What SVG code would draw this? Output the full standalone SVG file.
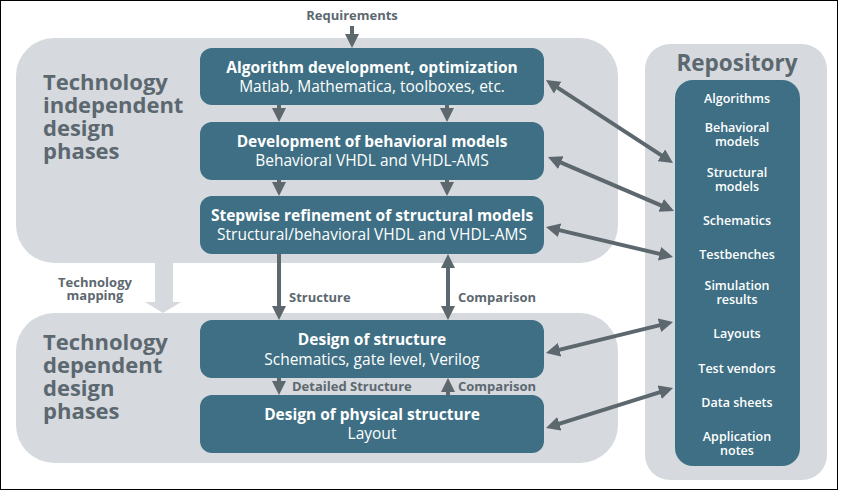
<svg xmlns="http://www.w3.org/2000/svg" width="843" height="492" viewBox="0 0 843 492">
<defs>
<style>
.panel{fill:#d6d9de}
.box{fill:#3e6f84}
.conn{stroke:#5d676e;stroke-width:4;fill:none}
.big{font-family:"Open Sans","DejaVu Sans",sans-serif;font-weight:bold;font-size:22px;fill:#5c6870}
.lbl{font-family:"Open Sans","DejaVu Sans",sans-serif;font-weight:bold;font-size:13px;fill:#5c6870}
.t{font-family:"Open Sans","DejaVu Sans",sans-serif;font-weight:bold;font-size:15.5px;fill:#fff;text-anchor:middle}
.s{font-family:"Open Sans","DejaVu Sans",sans-serif;font-size:15.5px;fill:#fff;text-anchor:middle}
.r{font-family:"Open Sans","DejaVu Sans",sans-serif;font-size:12.5px;font-weight:600;fill:#fff;text-anchor:middle}
</style>
<marker id="ah" viewBox="0 0 14 14" markerWidth="14" markerHeight="14" refX="8" refY="7" orient="auto-start-reverse" markerUnits="userSpaceOnUse">
<path d="M0,0 L14,7 L0,14 z" fill="#5d676e"/>
</marker>
</defs>
<rect x="0.5" y="0.5" width="837" height="489" fill="#fff" stroke="#000" stroke-width="1"/>

<g id="independent-panel">
<rect class="panel" x="16" y="38" width="602" height="225" rx="38"/>
<text class="big" x="43" y="90">Technology</text>
<text class="big" x="43" y="113">independent</text>
<text class="big" x="43" y="136">design</text>
<text class="big" x="43" y="159">phases</text>
</g>

<g id="dependent-panel">
<rect class="panel" x="16" y="313" width="602" height="150" rx="38"/>
<text class="big" x="43" y="350">Technology</text>
<text class="big" x="43" y="373">dependent</text>
<text class="big" x="43" y="396">design</text>
<text class="big" x="43" y="419">phases</text>
</g>

<g id="technology-mapping">
<path class="panel" d="M155,263 H173 V302 H181 L163,313 L145,302 H155 Z"/>
<text class="lbl" x="95" y="287" text-anchor="middle">Technology</text>
<text class="lbl" x="95" y="300" text-anchor="middle">mapping</text>
</g>

<g id="repository">
<rect class="panel" x="645" y="44" width="182" height="436" rx="25"/>
<text x="737" y="71" text-anchor="middle" style="font-family:'Open Sans','DejaVu Sans',sans-serif;font-weight:bold;font-size:22.5px;fill:#5c6870">Repository</text>
<rect class="box" x="675" y="80" width="125" height="386" rx="18"/>
<text class="r" x="737" y="103">Algorithms</text>
<text class="r" x="737" y="132">Behavioral</text>
<text class="r" x="737" y="146">models</text>
<text class="r" x="737" y="177">Structural</text>
<text class="r" x="737" y="191">models</text>
<text class="r" x="737" y="225">Schematics</text>
<text class="r" x="737" y="259">Testbenches</text>
<text class="r" x="737" y="290">Simulation</text>
<text class="r" x="737" y="304">results</text>
<text class="r" x="737" y="338">Layouts</text>
<text class="r" x="737" y="373">Test vendors</text>
<text class="r" x="737" y="407">Data sheets</text>
<text class="r" x="737" y="441">Application</text>
<text class="r" x="737" y="455">notes</text>
</g>

<g id="algorithm">
<rect class="box" x="200" y="48" width="344" height="57" rx="12"/>
<text class="t" x="372" y="73">Algorithm development, optimization</text>
<text class="s" x="372" y="92">Matlab, Mathematica, toolboxes, etc.</text>
</g>
<g id="behavioral">
<rect class="box" x="200" y="122" width="344" height="58" rx="12"/>
<text class="t" x="372" y="147">Development of behavioral models</text>
<text class="s" x="372" y="166">Behavioral VHDL and VHDL-AMS</text>
</g>
<g id="structural">
<rect class="box" x="200" y="196" width="344" height="58" rx="12"/>
<text class="t" x="372" y="221">Stepwise refinement of structural models</text>
<text class="s" x="372" y="240">Structural/behavioral VHDL and VHDL-AMS</text>
</g>
<g id="design-structure">
<rect class="box" x="200" y="320" width="344" height="58" rx="12"/>
<text class="t" x="372" y="345">Design of structure</text>
<text class="s" x="372" y="365">Schematics, gate level, Verilog</text>
</g>
<g id="physical">
<rect class="box" x="200" y="395" width="344" height="58" rx="12"/>
<text class="t" x="372" y="420">Design of physical structure</text>
<text class="s" x="372" y="439">Layout</text>
</g>

<g id="connectors">
<text class="lbl" x="352" y="20" text-anchor="middle">Requirements</text>
<line class="conn" x1="352" y1="26" x2="352" y2="42" marker-end="url(#ah)"/>
<line class="conn" x1="279" y1="105" x2="279" y2="116" marker-end="url(#ah)"/>
<line class="conn" x1="447" y1="105" x2="447" y2="116" marker-end="url(#ah)"/>
<line class="conn" x1="279" y1="180" x2="279" y2="190" marker-end="url(#ah)"/>
<line class="conn" x1="447" y1="180" x2="447" y2="190" marker-end="url(#ah)"/>
<line class="conn" x1="279" y1="254" x2="279" y2="314" marker-end="url(#ah)"/>
<text class="lbl" x="289" y="302">Structure</text>
<line class="conn" x1="448" y1="260" x2="448" y2="314" marker-start="url(#ah)" marker-end="url(#ah)"/>
<text class="lbl" x="458" y="302">Comparison</text>
<line class="conn" x1="279" y1="378" x2="279" y2="389" marker-end="url(#ah)"/>
<text class="lbl" x="292" y="391">Detailed Structure</text>
<line class="conn" x1="448" y1="395" x2="448" y2="384" marker-end="url(#ah)"/>
<text class="lbl" x="458" y="391">Comparison</text>
<line class="conn" x1="551" y1="83.3" x2="668" y2="159.7" marker-start="url(#ah)" marker-end="url(#ah)"/>
<line class="conn" x1="553.5" y1="159.4" x2="668.5" y2="208.6" marker-start="url(#ah)" marker-end="url(#ah)"/>
<line class="conn" x1="551.8" y1="228.4" x2="667.2" y2="255.6" marker-start="url(#ah)" marker-end="url(#ah)"/>
<line class="conn" x1="551.8" y1="351.6" x2="667.2" y2="323.4" marker-start="url(#ah)" marker-end="url(#ah)"/>
<line class="conn" x1="551.7" y1="426.2" x2="667.3" y2="389.8" marker-start="url(#ah)" marker-end="url(#ah)"/>
</g>
</svg>
